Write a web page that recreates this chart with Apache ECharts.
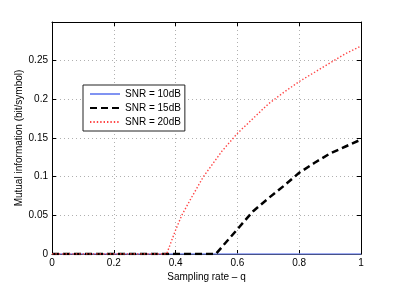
<!DOCTYPE html>
<html>
<head>
<meta charset="utf-8">
<script src="https://cdn.jsdelivr.net/npm/echarts@6/dist/echarts.min.js"></script>
<style>html,body{margin:0;padding:0;background:#fff;}#c{width:399px;height:286px;}</style>
</head>
<body>
<div id="c"></div>
<script>
// Data
var seriesNames = ['SNR = 10dB', 'SNR = 15dB', 'SNR = 20dB'];
var q10 = [0, 1];
var v10 = [0, 0];
var q15 = [0, 0.53, 0.6, 0.65, 0.7, 0.75, 0.8, 0.85, 0.9, 0.95, 1];
var v15 = [0, 0, 0.032, 0.055, 0.072, 0.088, 0.105, 0.118, 0.13, 0.139, 0.148];
var q20 = [0, 0.371, 0.4, 0.42, 0.45, 0.49, 0.55, 0.6, 0.65, 0.7, 0.75, 0.8, 0.85, 0.9, 0.95, 1];
var v20 = [0, 0, 0.031, 0.05, 0.072, 0.1, 0.133, 0.156, 0.175, 0.194, 0.209, 0.223, 0.235, 0.247, 0.259, 0.269];
var xTickLabels = ['0', '0.2', '0.4', '0.6', '0.8', '1'];
var yTickLabels = ['0', '0.05', '0.1', '0.15', '0.2', '0.25', ''];

function pairs(qs, vs) { return qs.map(function (q, i) { return [q, vs[i]]; }); }

var FONT = 'Liberation Sans, Arial, sans-serif';
var chart = echarts.init(document.getElementById('c'));
var gridLine = { show: true, lineStyle: { color: '#b0b0b0', type: [1, 3], width: 1 } };
var xBase = { type: 'value', min: 0, max: 1, interval: 0.2 };
var yBase = { type: 'value', min: 0, max: 0.3, interval: 0.05 };
chart.setOption({
  animation: false,
  backgroundColor: '#fff',
  grid: { left: 52, top: 22, right: 38, bottom: 32, show: false, containLabel: false, outerBoundsMode: 'none' },
  legend: {
    orient: 'vertical', left: 83, top: 85,
    padding: [4, 4, 4, 6],
    itemWidth: 30, itemHeight: 10, itemGap: 4,
    borderColor: '#222', borderWidth: 1, backgroundColor: '#fff',
    itemStyle: { opacity: 0 },
    textStyle: { fontFamily: FONT, fontSize: 10, color: '#000' },
    data: seriesNames
  },
  xAxis: [
    Object.assign({}, xBase, {
      position: 'bottom',
      name: 'Sampling rate \u2013 q', nameLocation: 'middle', nameGap: 18, nameMoveOverlap: false,
      nameTextStyle: { fontFamily: FONT, fontSize: 10, color: '#000' },
      axisLine: { show: true, onZero: false, lineStyle: { color: '#000', width: 1 } },
      axisTick: { show: true, inside: true, length: 4, lineStyle: { color: '#000' } },
      axisLabel: { fontFamily: FONT, fontSize: 10, color: '#000', margin: 4,
        formatter: function (v) { return xTickLabels[Math.round(v / 0.2)]; } },
      splitLine: gridLine
    }),
    Object.assign({}, xBase, {
      position: 'top',
      axisLine: { show: true, onZero: false, lineStyle: { color: '#000', width: 1 } },
      axisTick: { show: true, inside: true, length: 4, lineStyle: { color: '#000' } },
      axisLabel: { show: false }, splitLine: { show: false }
    })
  ],
  yAxis: [
    Object.assign({}, yBase, {
      position: 'left',
      name: 'Mutual information (bit/symbol)', nameLocation: 'middle', nameGap: 28, nameMoveOverlap: false,
      nameTextStyle: { fontFamily: FONT, fontSize: 10, color: '#000' },
      axisLine: { show: true, onZero: false, lineStyle: { color: '#000', width: 1 } },
      axisTick: { show: true, inside: true, length: 4, lineStyle: { color: '#000' } },
      axisLabel: { fontFamily: FONT, fontSize: 10, color: '#000', margin: 4,
        formatter: function (v) { return yTickLabels[Math.round(v / 0.05)]; } },
      splitLine: gridLine
    }),
    Object.assign({}, yBase, {
      position: 'right',
      axisLine: { show: true, onZero: false, lineStyle: { color: '#000', width: 1 } },
      axisTick: { show: true, inside: true, length: 4, lineStyle: { color: '#000' } },
      axisLabel: { show: false }, splitLine: { show: false }
    })
  ],
  series: [
    { name: seriesNames[0], type: 'line', symbol: 'none', data: pairs(q10, v10),
      lineStyle: { color: '#8093f2', width: 1.5 }, itemStyle: { color: '#8093f2' }, z: 2 },
    { name: seriesNames[1], type: 'line', symbol: 'none', data: pairs(q15, v15),
      lineStyle: { color: '#000', width: 2.5, type: [7, 4] }, itemStyle: { color: '#000' }, z: 3 },
    { name: seriesNames[2], type: 'line', symbol: 'none', data: pairs(q20, v20),
      lineStyle: { color: '#ff4444', width: 1.4, type: [1.4, 2] }, itemStyle: { color: '#ff4444' }, z: 4 }
  ]
});
</script>
</body>
</html>
